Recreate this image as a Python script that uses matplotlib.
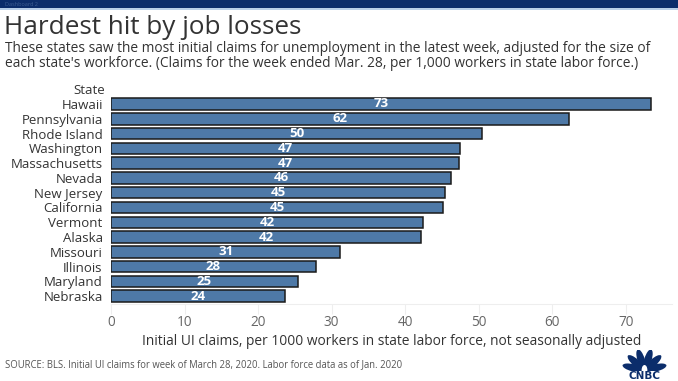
import numpy as np
import matplotlib
matplotlib.use("Agg")
import matplotlib.pyplot as plt
from matplotlib.patches import Rectangle, Ellipse

states = ["Hawaii", "Pennsylvania", "Rhode Island", "Washington", "Massachusetts",
          "Nevada", "New Jersey", "California", "Vermont", "Alaska", "Missouri",
          "Illinois", "Maryland", "Nebraska"]
claims = [73.4, 62.3, 50.5, 47.4, 47.3, 46.2, 45.4, 45.2, 42.4, 42.2, 31.2,
          27.9, 25.4, 23.7]
labels = [73, 62, 50, 47, 47, 46, 45, 45, 42, 42, 31, 28, 25, 24]
xticks = [0, 10, 20, 30, 40, 50, 60, 70]

title = "Hardest hit by job losses"
subtitle = ("These states saw the most initial claims for unemployment in the latest week, adjusted for the size of\n"
            "each state's workforce. (Claims for the week ended Mar. 28, per 1,000 workers in state labor force.)")
xlabel = "Initial UI claims, per 1000 workers in state labor force, not seasonally adjusted"
source = "SOURCE: BLS. Initial UI claims for week of March 28, 2020. Labor force data as of Jan. 2020"

plt.rcParams["font.family"] = ["Open Sans", "DejaVu Sans"]
W, H = 678, 381
BAR = "#4e79a7"
NAVY = "#0b2d6b"
TXT = "#333333"

fig = plt.figure(figsize=(W / 100, H / 100), dpi=100)

# top band
fig.patches.append(Rectangle((0, 1 - 8 / H), 1, 8 / H, transform=fig.transFigure,
                             facecolor=NAVY, edgecolor="none"))
fig.patches.append(Rectangle((0, 1 - 10 / H), 1, 2 / H, transform=fig.transFigure,
                             facecolor="#b8cfe8", edgecolor="none"))
fig.text(5 / W, 1 - 4 / H, "Dashboard 2", fontsize=4, color="#3d5e94", va="center")

fig.text(4 / W, 1 - 27 / H, title, fontsize=18.8, color=TXT, va="center")
fig.text(5 / W, 1 - 56 / H, subtitle, fontsize=9.9, color=TXT, va="center", linespacing=1.0)

ax = fig.add_axes([111 / W, 1 - 303.6 / H, 561 / W, 207 / H])
y = np.arange(len(states))
ax.barh(y, claims, height=0.78, color=BAR, edgecolor="#1a1a1a", linewidth=1.1, zorder=2)
for yi, v, lab in zip(y, claims, labels):
    ax.text(v / 2, yi, str(lab), color="white", fontsize=9.5, fontweight="bold",
            ha="center", va="center", zorder=3)

ax.set_ylim(len(states) - 0.5, -0.5)
ax.set_xlim(0, 76.3)
ax.set_yticks(y)
ax.set_yticklabels(states, fontsize=9.5, color=TXT)
ax.set_xticks(xticks)
ax.set_xticklabels([str(t) for t in xticks], fontsize=9.8, color="#666666")
ax.tick_params(axis="y", length=0, pad=6)
ax.tick_params(axis="x", length=7, color="#eeeeee", pad=1)
for s in ["top", "right", "left"]:
    ax.spines[s].set_visible(False)
ax.spines["bottom"].set_color("#eeeeee")
ax.text(-6 / 7.35, -0.5, "State", transform=ax.transData, ha="right", va="bottom",
        fontsize=9.5, color=TXT)
ax.set_xlabel(xlabel, fontsize=9.9, color=TXT, labelpad=3)

fig.text(5 / W, 1 - 365 / H, source, fontsize=6.85, color="#555555", va="center")

# CNBC logo (simplified peacock)
lax = fig.add_axes([621 / W, 1 - 371 / H, 47 / W, 21 / H])
lax.set_xlim(-1.15, 1.15)
lax.set_ylim(0, 1.05)
lax.axis("off")
for a in [14, 43, 73, 107, 137, 166]:
    r = np.deg2rad(a)
    lax.add_patch(Ellipse((0.58 * np.cos(r), 0.58 * np.sin(r) + 0.02), 1.05, 0.36, angle=a,
                          facecolor=NAVY, edgecolor="none"))
lax.add_patch(Ellipse((0, 0.05), 0.28, 0.5, facecolor="white", edgecolor="none"))
fig.text(644.5 / W, 1 - 376 / H, "CNBC", fontsize=7.5, fontweight="heavy", color=NAVY,
         ha="center", va="center", family="DejaVu Sans")

fig.savefig("out.png", dpi=100)
